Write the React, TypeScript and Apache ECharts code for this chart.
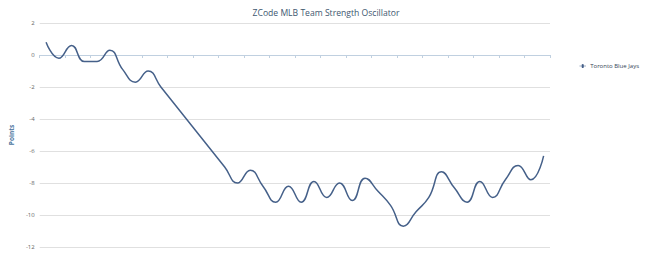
import React, { useEffect, useRef } from "react";
import * as echarts from "echarts";

const categories: string[] = Array.from({ length: 40 }, (_, i) => String(i + 1));
const seriesName = "Toronto Blue Jays";
const values: number[] = [
  0.8, -0.2, 0.6, -0.4, -0.4, 0.3, -0.9, -1.7, -1.0, -2.0,
  -3.0, -4.0, -5.0, -6.0, -7.0, -8.0, -7.2, -8.2, -9.2, -8.2,
  -9.2, -7.9, -8.9, -8.0, -9.1, -7.7, -8.5, -9.4, -10.7, -9.8,
  -8.9, -7.3, -8.3, -9.2, -7.9, -8.9, -7.8, -6.9, -7.8, -6.3,
];
const yMin = -12;
const yMax = 2;
const yStep = 2;

const FONT = "'Open Sans', 'DejaVu Sans', sans-serif";

export default function App() {
  const ref = useRef<HTMLDivElement>(null);
  useEffect(() => {
    document.body.style.margin = "0";
    if (!ref.current) return;
    const chart = echarts.init(ref.current, undefined, { renderer: "svg" });
    chart.setOption({
      animation: false,
      backgroundColor: "#ffffff",
      title: {
        text: "ZCode MLB Team Strength Oscillator",
        left: "center",
        top: 3,
        textStyle: { fontFamily: FONT, fontSize: 8.6, fontWeight: "normal", color: "#3e576f" },
      },
      legend: {
        orient: "vertical",
        right: 8,
        top: 58,
        itemWidth: 9,
        itemHeight: 4,
        itemGap: 4,
        textStyle: { fontFamily: FONT, fontSize: 6, color: "#334455", padding: [0, 0, 0, -2] },
        data: [{ name: seriesName, icon: "path://M0,1.5L3.2,1.5A1.5,1.5,0,1,1,5.8,1.5L9,1.5L9,2.5L5.8,2.5A1.5,1.5,0,1,1,3.2,2.5L0,2.5Z" }],
      },
      grid: { left: 36, right: 102, top: 23, bottom: 11, containLabel: false },
      xAxis: {
        type: "category",
        data: categories,
        boundaryGap: true,
        axisLine: { show: true, lineStyle: { color: "#c0d0e0", width: 1 } },
        axisTick: { show: true, length: 3, lineStyle: { color: "#c0d0e0" } },
        axisLabel: { show: false },
        splitLine: { show: false },
      },
      yAxis: {
        type: "value",
        min: yMin,
        max: yMax,
        interval: yStep,
        name: "Points",
        nameLocation: "middle",
        nameGap: 21,
        nameRotate: 90,
        nameTextStyle: { fontFamily: FONT, fontSize: 6.5, fontWeight: "bold", color: "#4d759e" },
        axisLine: { show: false },
        axisTick: { show: false },
        axisLabel: { fontFamily: FONT, fontSize: 6, color: "#666666", margin: 5 },
        splitLine: { lineStyle: { color: "#e0e0e0", width: 1 } },
      },
      series: [
        {
          name: seriesName,
          type: "line",
          data: values,
          smooth: 0.5,
          showSymbol: false,
          symbol: "circle",
          lineStyle: { color: "#456089", width: 1.5 },
          itemStyle: { color: "#456089" },
        },
      ],
    });
    return () => chart.dispose();
  }, []);
  return <div ref={ref} style={{ width: 652, height: 258 }} />;
}
